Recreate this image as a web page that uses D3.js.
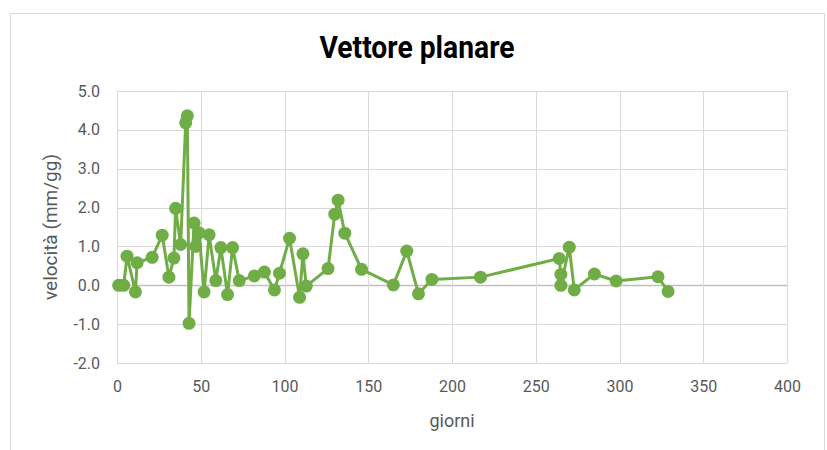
<!DOCTYPE html>
<html>
<head>
<meta charset="utf-8">
<script src="https://cdn.jsdelivr.net/npm/d3@7"></script>
<style>
    body { margin: 0; background: #fff; }
    svg { display: block; }
</style>
</head>
<body>
<div id="chart"></div>
<script>
// ----- data -----
let days = [1, 4, 6, 11, 12, 21, 27, 31, 34, 35, 38, 41, 42, 43, 46, 47, 49, 52, 55, 59,
    62, 66, 69, 73, 82, 88, 94, 97, 103, 109, 111, 113, 126, 130, 132, 136, 146, 165,
    173, 180, 188, 217, 264, 265, 265, 270, 273, 285, 298, 323, 329];
let velocity = [0.0, 0.0, 0.75, -0.17, 0.58, 0.72, 1.29, 0.21, 0.7, 1.98, 1.05, 4.18, 4.36,
    -0.98, 1.6, 1.0, 1.35, -0.17, 1.3, 0.12, 0.97, -0.24, 0.97, 0.12, 0.24, 0.34, -0.12,
    0.31, 1.21, -0.31, 0.81, -0.02, 0.43, 1.83, 2.19, 1.34, 0.41, 0.01, 0.88, -0.22, 0.15,
    0.21, 0.69, 0.28, 0.0, 0.98, -0.12, 0.29, 0.11, 0.22, -0.16];
let xTicks = [0, 50, 100, 150, 200, 250, 300, 350, 400];
let yTicks = [-2, -1, 0, 1, 2, 3, 4, 5];

let dataPoints = days.map((d, i) => ({ x: d, y: velocity[i] }));

let svgWidth = 827;
let svgHeight = 450;
let margin = { top: 91, right: 40, bottom: 87, left: 117 };
let width = svgWidth - margin.left - margin.right;
let height = svgHeight - margin.top - margin.bottom;

let svg = d3.select("#chart")
    .append("svg")
    .attr("width", svgWidth)
    .attr("height", svgHeight);

// chart border
svg.append("rect")
    .attr("x", 10.5)
    .attr("y", 13.5)
    .attr("width", 814)
    .attr("height", 460)
    .attr("fill", "none")
    .attr("stroke", "#d9d9d9");

let x = d3.scaleLinear().domain([0, 400]).range([0, width]);
let y = d3.scaleLinear().domain([-2, 5]).range([height, 0]);

let plot = svg.append("g")
    .attr("transform", `translate(${margin.left}, ${margin.top})`);

// gridlines
plot.append("g")
    .selectAll("line")
    .data(yTicks)
    .enter()
    .append("line")
    .attr("x1", 0)
    .attr("x2", width)
    .attr("y1", d => Math.round(y(d)) + 0.5)
    .attr("y2", d => Math.round(y(d)) + 0.5)
    .attr("stroke", d => d === 0 ? "#bfbfbf" : "#d9d9d9")
    .attr("stroke-width", d => d === 0 ? 1.5 : 1);

plot.append("g")
    .selectAll("line")
    .data(xTicks)
    .enter()
    .append("line")
    .attr("x1", d => Math.round(x(d)) + 0.5)
    .attr("x2", d => Math.round(x(d)) + 0.5)
    .attr("y1", 0)
    .attr("y2", height)
    .attr("stroke", "#d9d9d9");

// axes (labels only)
let axisX = d3.axisBottom(x).tickValues(xTicks).tickSize(0).tickPadding(18);
let axisY = d3.axisLeft(y).tickValues(yTicks).tickSize(0).tickPadding(17)
    .tickFormat(d => d.toFixed(1));

let gx = plot.append("g")
    .attr("transform", `translate(0, ${height})`)
    .call(axisX);
let gy = plot.append("g").call(axisY);

[gx, gy].forEach(g => {
    g.select(".domain").remove();
    g.selectAll("text")
        .attr("fill", "#595959")
        .style("font-family", "Roboto, sans-serif")
        .style("font-size", "16px");
});

// series
let line = d3.line().x(d => x(d.x)).y(d => y(d.y));

plot.append("path")
    .datum(dataPoints)
    .attr("d", line)
    .attr("fill", "none")
    .attr("stroke", "#70ad47")
    .attr("stroke-width", 3)
    .attr("stroke-linejoin", "round");

plot.selectAll("circle")
    .data(dataPoints)
    .enter()
    .append("circle")
    .attr("cx", d => x(d.x))
    .attr("cy", d => y(d.y))
    .attr("r", 6.5)
    .attr("fill", "#70ad47");

// titles
svg.append("text")
    .attr("x", 417)
    .attr("y", 58)
    .attr("text-anchor", "middle")
    .attr("textLength", 195)
    .attr("lengthAdjust", "spacingAndGlyphs")
    .style("font-family", "Roboto, sans-serif")
    .style("font-weight", "bold")
    .style("font-size", "31px")
    .attr("fill", "#000")
    .text("Vettore planare");

svg.append("text")
    .attr("x", margin.left + width / 2)
    .attr("y", 427)
    .attr("text-anchor", "middle")
    .style("font-family", "Roboto, sans-serif")
    .style("font-size", "18px")
    .attr("fill", "#595959")
    .text("giorni");

svg.append("text")
    .attr("transform", `translate(57, ${margin.top + y(1.5)}) rotate(-90)`)
    .attr("text-anchor", "middle")
    .style("font-family", "Roboto, sans-serif")
    .style("font-size", "19px")
    .attr("fill", "#595959")
    .text("velocità (mm/gg)");
</script>
</body>
</html>
